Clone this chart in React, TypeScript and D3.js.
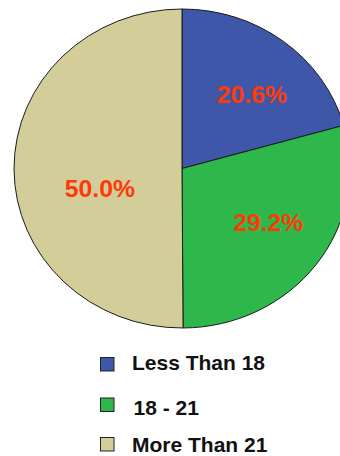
import React from "react";
import * as d3 from "d3";

// Age groups and their shares (percent)
const categories = ["Less Than 18", "18 - 21", "More Than 21"];
const shares = [20.6, 29.2, 50.0];
const colors = ["#3F57A8", "#2EB84B", "#D3CD9A"];

// Layout
const W = 340;
const H = 456;
const CX = 182;
const CY = 168.5;
const RY = 159.5;
const RX = 168;
const SX = RX / RY;
const LABEL_K = 0.62;
const labelNudge: [number, number][] = [
  [7, 5],
  [3, -5.5],
  [22, 20],
];
const legendBoxY = [357.5, 398, 437.5];
const legendTextY = [369.5, 415, 451.5];

export default function App() {
  const pie = d3
    .pie<number>()
    .sort(null)
    .startAngle(0)
    .endAngle(2 * Math.PI)
    .value((d) => d);
  const arcs = pie(shares);
  const arc = d3.arc<d3.PieArcDatum<number>>().innerRadius(0).outerRadius(RY);

  const labelPos = arcs.map((a, i) => {
    const mid = (a.startAngle + a.endAngle) / 2;
    const x = Math.sin(mid) * RX * LABEL_K + labelNudge[i][0];
    const y = -Math.cos(mid) * RY * LABEL_K + labelNudge[i][1];
    return [CX + x, CY + y];
  });

  const fmt = d3.format(".1f");

  return (
    <svg
      width={W}
      height={H}
      style={{ position: "absolute", left: 0, top: 0, background: "#fff" }}
      fontFamily="'Liberation Sans', Arial, sans-serif"
    >
      <g transform={`translate(${CX},${CY}) scale(${SX},1)`}>
        {arcs.map((a, i) => (
          <path
            key={i}
            d={arc(a) || ""}
            fill={colors[i]}
            stroke="#1a1a1a"
            strokeWidth={1}
            vectorEffect="non-scaling-stroke"
          />
        ))}
      </g>
      {labelPos.map(([x, y], i) => (
        <text
          key={i}
          transform={`translate(${x},${y}) scale(1.03,1)`}
          dy="0.35em"
          textAnchor="middle"
          fontSize={24}
          fontWeight="bold"
          fill="#FF3A0A"
        >
          {fmt(shares[i])}%
        </text>
      ))}
      {categories.map((c, i) => (
        <g key={c}>
          <rect
            x={100.5}
            y={legendBoxY[i]}
            width={13.5}
            height={13.5}
            fill={colors[i]}
            stroke="#222"
            strokeWidth={1}
          />
          <text
            transform={`translate(${i === 1 ? 133.5 : 132},${legendTextY[i]}) scale(1.05,1)`}
            fontSize={20}
            fontWeight="bold"
            fill="#111"
          >
            {c}
          </text>
        </g>
      ))}
    </svg>
  );
}
